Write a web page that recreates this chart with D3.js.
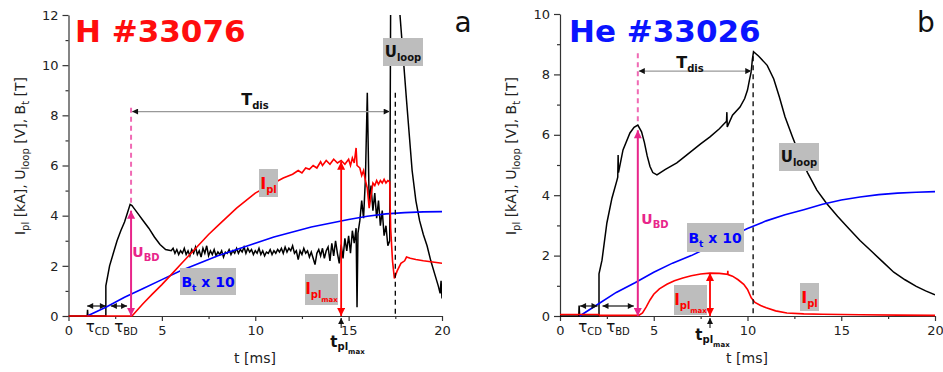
<!DOCTYPE html>
<html>
<head>
<meta charset="utf-8">
<script src="https://cdn.jsdelivr.net/npm/d3@7"></script>
<style>
    body { margin: 0; background: #fff; }
    svg { font-family: "DejaVu Sans", sans-serif; }
</style>
</head>
<body>
<div id="chart"></div>
<script>

var ticksX = [0, 5, 10, 15, 20];
var minorX = [2.5, 7.5, 12.5, 17.5];
var ticksYA = [0, 2, 4, 6, 8, 10, 12];
var minorYA = [1, 3, 5, 7, 9, 11];
var ticksYB = [0, 2, 4, 6, 8, 10];
var minorYB = [1, 3, 5, 7, 9];

// H #33076  [t ms, value]
var uloopA = [[0,0],[1.0,0],[1.02,0.25],[1.04,0],[2.0,0],[2.0,1.2],[2.1,1.6],[2.2,2.0],[2.4,2.5],[2.6,3.0],[2.8,3.4],[3.0,3.75],
    [3.15,4.1],[3.3,4.45],[3.4,4.4],[3.5,4.3],[3.7,4.1],[4.0,3.8],[4.3,3.5],[4.6,3.15],[4.9,2.85],[5.2,2.65],[5.5,2.6],
    [5.6,2.7],[5.7,2.5],[5.8,2.65],[5.9,2.45],[6.0,2.6],[6.1,2.5],[6.2,2.7],[6.3,2.45],[6.4,2.6],[6.5,2.4],[6.6,2.65],
    [6.7,2.5],[6.8,2.75],[6.9,2.45],[7.0,2.6],[7.1,2.35],[7.2,2.7],[7.3,2.5],[7.4,2.8],[7.5,2.4],[7.6,2.6],[7.7,2.45],
    [7.8,2.65],[7.9,2.4],[8.0,2.55],[8.1,2.45],[8.2,2.6],[8.3,2.35],[8.4,2.55],[8.5,2.5],[8.6,2.65],[8.7,2.45],[8.8,2.6],
    [8.9,2.5],[9.0,2.7],[9.1,2.5],[9.2,2.65],[9.3,2.55],[9.4,2.75],[9.5,2.5],[9.6,2.7],[9.7,2.55],[9.8,2.65],[9.9,2.45],
    [10.0,2.6],[10.1,2.5],[10.2,2.7],[10.3,2.45],[10.4,2.6],[10.5,2.4],[10.6,2.55],[10.7,2.5],[10.8,2.65],[10.9,2.45],
    [11.0,2.6],[11.1,2.5],[11.2,2.65],[11.3,2.55],[11.4,2.7],[11.5,2.5],[11.6,2.75],[11.7,2.55],[11.8,2.7],[11.9,2.6],
    [12.0,2.8],[12.1,2.5],[12.2,2.6],[12.3,2.25],[12.4,2.6],[12.5,2.45],[12.6,2.7],[12.7,2.5],[12.8,2.6],[12.9,2.35],
    [13.0,2.55],[13.1,2.3],[13.2,2.05],[13.3,2.5],[13.4,2.65],[13.5,2.4],[13.6,2.7],[13.7,2.3],[13.8,2.6],[13.9,2.75],
    [14.0,2.2],[14.1,2.9],[14.2,2.4],[14.3,3.0],[14.4,2.5],[14.5,2.1],[14.6,2.85],[14.7,2.3],[14.8,3.1],[14.9,2.6],
    [15.0,3.2],[15.1,2.5],[15.2,3.4],[15.3,2.9],[15.4,3.5],[15.45,0.35],[15.5,3.3],[15.6,3.8],[15.7,4.6],[15.8,3.9],
    [15.9,5.5],[16.0,8.9],[16.1,4.5],[16.2,5.2],[16.3,4.2],[16.4,4.9],[16.5,3.9],[16.6,4.6],[16.7,3.6],[16.8,4.2],
    [16.9,3.2],[17.0,3.6],[17.1,2.8],[17.2,3.0],[17.25,12.5],[17.35,14],[17.7,14],[17.75,12],[18.1,8.6],[18.4,5.8],
    [18.6,4.6],[18.8,3.8],[19.0,3.25],[19.2,2.8],[19.4,2.2],[19.6,1.7],[19.8,1.2],[19.9,0.9],[19.95,1.4],[20.0,0.7]];

var iplA = [[0,0],[3.4,0],[3.7,0.25],[4.0,0.5],[4.5,0.88],[5.0,1.25],[5.5,1.65],[6.0,2.05],[6.5,2.45],[7.0,2.85],
    [7.5,3.25],[8.0,3.6],[8.5,3.95],[9.0,4.3],[9.5,4.6],[10.0,4.9],[10.5,5.1],[11.0,5.3],[11.5,5.5],[12.0,5.65],
    [12.3,5.8],[12.5,5.7],[12.7,5.9],[12.9,5.85],[13.1,6.0],[13.3,5.9],[13.5,6.15],[13.6,6.0],[13.8,6.2],[14.0,6.05],
    [14.2,6.25],[14.4,6.1],[14.6,6.2],[14.8,6.05],[15.0,6.25],[15.1,6.0],[15.2,6.3],[15.3,6.1],[15.4,6.7],[15.45,6.0],
    [15.6,5.9],[15.7,5.6],[15.8,5.8],[15.9,5.4],[16.0,5.1],[16.1,4.3],[16.2,4.8],[16.3,5.3],[16.4,5.2],[16.5,5.4],
    [16.6,5.25],[16.7,5.4],[16.8,5.3],[16.9,5.45],[17.0,5.3],[17.1,5.4],[17.2,5.35],[17.25,3.5],[17.35,2.2],[17.45,1.5],
    [17.6,1.8],[17.8,2.1],[18.0,2.2],[18.1,2.35],[18.3,2.3],[18.6,2.25],[19.0,2.2],[19.5,2.15],[20.0,2.1]];

var btA = [[1.0,0],[2,0.35],[3,0.75],[4,1.1],[5,1.45],[6,1.8],[7,2.1],[8,2.4],[9,2.65],[10,2.9],[11,3.15],
    [12,3.35],[13,3.55],[14,3.7],[15,3.85],[16,3.98],[17,4.07],[18,4.12],[19,4.15],[20,4.16]];

// He #33026
var uloopB = [[0,0],[1.0,0],[1.02,0.35],[1.05,0],[2.08,0],[2.08,1.4],[2.24,1.85],[2.5,3.08],[2.77,3.9],[3.04,4.5],
    [3.08,4.6],[3.1,5.33],[3.12,4.75],[3.36,5.5],[3.73,6.06],[3.95,6.25],[4.15,6.32],[4.35,6.1],[4.5,5.75],[4.65,5.3],
    [4.8,4.95],[4.95,4.75],[5.17,4.67],[5.6,4.85],[6.23,5.07],[6.7,5.3],[7.1,5.5],[7.5,5.7],[8.0,5.93],[8.5,6.2],
    [8.88,6.45],[8.9,6.75],[8.92,6.26],[9.2,6.65],[9.6,6.92],[9.85,7.2],[10.0,7.48],[10.1,7.8],[10.2,8.1],[10.26,8.5],
    [10.32,8.75],[10.6,8.6],[11.05,8.3],[11.4,7.85],[11.7,7.25],[12.0,6.6],[12.4,5.93],[12.8,5.3],[13.2,4.75],
    [13.7,4.17],[14.2,3.74],[14.8,3.3],[15.4,2.9],[16.0,2.5],[16.6,2.15],[17.2,1.8],[17.8,1.45],[18.4,1.2],
    [19.0,0.98],[19.5,0.83],[20.0,0.7]];

var iplB = [[0,0.05],[2.08,0.05],[2.1,0.02],[4.2,0.02],[4.4,0.1],[4.6,0.3],[4.8,0.53],[5.0,0.72],[5.3,0.9],[5.7,1.05],
    [6.1,1.17],[6.55,1.26],[7.0,1.33],[7.5,1.39],[8.0,1.42],[8.5,1.41],[8.94,1.38],[8.95,1.5],[8.96,1.37],[9.2,1.32],
    [9.5,1.2],[9.8,1.05],[10.0,0.88],[10.2,0.6],[10.4,0.45],[10.7,0.35],[11.0,0.27],[11.5,0.17],[12.1,0.1],[13,0.07],
    [14,0.06],[16,0.04],[18,0.03],[20,0.02]];

var btB = [[1.05,0],[2,0.38],[3,0.78],[4,1.1],[5,1.45],[6,1.75],[7,2.0],[8,2.3],[9,2.6],[10,2.9],[11,3.15],
    [12,3.35],[13,3.52],[14,3.7],[15,3.84],[16,3.94],[17,4.02],[18,4.07],[19,4.1],[20,4.12]];

// characteristic times / levels
var eventsA = { tCD: 1.0, tStart: 2.0, tBD: 3.35, uBD: 4.2, dashTop: 8.3, tDisY: 8.15, tDisEnd: 17.2,
    tEnd: 17.5, endTop: 8.9, tIpMax: 14.6, ipMax: 6.15 };
var eventsB = { tCD: 1.07, tStart: 2.0, tBD: 4.15, uBD: 6.15, dashTop: 8.7, tDisY: 8.11, tDisEnd: 10.2,
    tEnd: 10.3, endTop: 8.6, tIpMax: 8.0, ipMax: 1.42 };


/*
 * Panel - one discharge
 */
Panel = function(_parentElement, _config){
    this.parentElement = _parentElement;
    this.config = _config;
    this.initVis();
}

Panel.prototype.initVis = function(){
    var vis = this;
    var c = vis.config;

    vis.svg = vis.parentElement.append("g");

    vis.x = d3.scaleLinear().domain([0, 20]).range([c.left, c.right]);
    vis.y = d3.scaleLinear().domain([0, c.yMax]).range([c.bottom, c.top]);

    // axes
    var ax = vis.svg.append("g").attr("class", "axis");
    ax.append("g").attr("transform", "translate(0," + c.bottom + ")")
        .call(d3.axisBottom(vis.x).tickValues(ticksX).tickSize(5).tickSizeOuter(0).tickPadding(5));
    ax.append("g").attr("transform", "translate(0," + c.bottom + ")")
        .call(d3.axisBottom(vis.x).tickValues(minorX).tickSize(3).tickFormat(""))
        .select(".domain").remove();
    ax.append("g").attr("transform", "translate(" + c.left + ",0)")
        .call(d3.axisLeft(vis.y).tickValues(c.ticksY).tickSize(6).tickSizeOuter(0).tickPadding(4));
    ax.append("g").attr("transform", "translate(" + c.left + ",0)")
        .call(d3.axisLeft(vis.y).tickValues(c.minorY).tickSize(3).tickFormat(""))
        .select(".domain").remove();
    ax.selectAll(".domain, line").attr("stroke", "#333").attr("stroke-width", 1.2);
    ax.selectAll("text").attr("font-size", 13).attr("fill", "#222").attr("font-family", "DejaVu Sans");

    vis.svg.append("clipPath").attr("id", c.id + "-clip")
        .append("rect").attr("x", c.left).attr("y", c.top)
        .attr("width", c.right - c.left).attr("height", c.bottom - c.top + 3);

    vis.updateVis();
}

Panel.prototype.updateVis = function(){
    var vis = this;
    var c = vis.config;
    var e = c.events;
    var x = vis.x, y = vis.y;

    var line = d3.line().x(function(d){ return x(d[0]); }).y(function(d){ return y(d[1]); });

    var plot = vis.svg.append("g").attr("clip-path", "url(#" + c.id + "-clip)");
    plot.append("path").datum(c.uloop).attr("d", line)
        .attr("fill", "none").attr("stroke", "#000").attr("stroke-width", 1.5);
    plot.append("path").datum(c.bt).attr("d", line)
        .attr("fill", "none").attr("stroke", "#0000ff").attr("stroke-width", 1.6);
    plot.append("path").datum(c.ipl).attr("d", line)
        .attr("fill", "none").attr("stroke", "#ff0000").attr("stroke-width", 1.6);

    var ann = vis.svg.append("g");

    // breakdown: dashed + double arrow
    ann.append("line").attr("x1", x(e.tBD)).attr("x2", x(e.tBD))
        .attr("y1", y(e.dashTop)).attr("y2", y(e.uBD + 0.2))
        .attr("stroke", "#f06ab4").attr("stroke-width", 2).attr("stroke-dasharray", "5,4");
    ann.append("line").attr("x1", x(e.tBD)).attr("x2", x(e.tBD))
        .attr("y1", y(0)).attr("y2", y(e.uBD))
        .attr("stroke", "#e8258a").attr("stroke-width", 2)
        .attr("marker-start", "url(#ar-pink)").attr("marker-end", "url(#ar-pink)");

    // end of discharge
    ann.append("line").attr("x1", x(e.tEnd)).attr("x2", x(e.tEnd))
        .attr("y1", y(e.endTop)).attr("y2", y(0))
        .attr("stroke", "#000").attr("stroke-width", 1.3).attr("stroke-dasharray", "5,4");

    // T_dis
    ann.append("line").attr("x1", x(e.tBD) + 1).attr("x2", x(e.tDisEnd))
        .attr("y1", y(e.tDisY)).attr("y2", y(e.tDisY))
        .attr("stroke", "#999").attr("stroke-width", 1.2)
        .attr("marker-start", "url(#ar-black)").attr("marker-end", "url(#ar-black)");

    // Ipl max
    ann.append("line").attr("x1", x(e.tIpMax)).attr("x2", x(e.tIpMax))
        .attr("y1", y(0)).attr("y2", y(e.ipMax))
        .attr("stroke", "#ff0000").attr("stroke-width", 1.8)
        .attr("marker-start", "url(#ar-red)").attr("marker-end", "url(#ar-red)");
    ann.append("line").attr("x1", x(e.tIpMax)).attr("x2", x(e.tIpMax))
        .attr("y1", y(0) + 12).attr("y2", y(0) + 2)
        .attr("stroke", "#000").attr("stroke-width", 1)
        .attr("marker-end", "url(#ar-small)");

    // tau arrows
    var ty = y(0) - 10;
    ann.append("line").attr("x1", x(e.tCD)).attr("x2", x(e.tStart))
        .attr("y1", ty).attr("y2", ty).attr("stroke", "#000").attr("stroke-width", 1.1)
        .attr("marker-start", "url(#ar-small)").attr("marker-end", "url(#ar-small)");
    ann.append("line").attr("x1", x(e.tStart) + 5).attr("x2", x(e.tBD) - 4)
        .attr("y1", ty).attr("y2", ty).attr("stroke", "#000").attr("stroke-width", 1.1)
        .attr("marker-start", "url(#ar-small)").attr("marker-end", "url(#ar-small)");

    // boxes
    c.boxes.forEach(function(b){
        ann.append("rect").attr("x", b.x).attr("y", b.y).attr("width", b.w).attr("height", b.h)
            .attr("fill", "#bdbdbd");
    });

    // texts
    c.labels.forEach(function(l){
        richText(ann, l.x, l.y, l.parts, l.color, l.bold, l.rotate);
    });

    vis.svg.append("text").attr("x", c.titleX).attr("y", 42)
        .attr("font-size", 31).attr("font-weight", "bold").attr("fill", c.titleColor)
        .text(c.title);
    vis.svg.append("text").attr("x", c.letterX).attr("y", 32).attr("text-anchor", "middle")
        .attr("font-size", 28).attr("fill", "#111").text(c.letter);
}

// text with subscripts: parts = [text, size, shift down]
function richText(g, x, y, parts, color, bold, rotate){
    var t = g.append("text")
        .attr("text-anchor", "middle").attr("fill", color)
        .attr("font-weight", bold ? "bold" : "normal");
    if (rotate) t.attr("transform", "translate(" + x + "," + y + ") rotate(-90)");
    else t.attr("x", x).attr("y", y);
    var cur = 0;
    parts.forEach(function(p){
        t.append("tspan").attr("font-size", p[1]).attr("dy", p[2] - cur).text(p[0]);
        cur = p[2];
    });
}

var svg = d3.select("#chart").append("svg").attr("width", 943).attr("height", 372);

var defs = svg.append("defs");
function marker(id, color, w, h){
    defs.append("marker").attr("id", id).attr("viewBox", "0 0 10 10")
        .attr("refX", 10).attr("refY", 5).attr("markerUnits", "userSpaceOnUse")
        .attr("markerWidth", w).attr("markerHeight", h).attr("orient", "auto-start-reverse")
        .append("path").attr("d", "M0,0 L10,5 L0,10 z").attr("fill", color);
}
marker("ar-pink", "#e8258a", 10, 8);
marker("ar-red", "#ff0000", 10, 8);
marker("ar-black", "#111", 8, 6);
marker("ar-small", "#111", 7, 6);

var yLabel = [["I", 14, 0], ["pl", 10, 4], [" [kA], U", 14, 0], ["loop", 10, 4], [" [V], B", 14, 0], ["t", 10, 4], [" [T]", 14, 0]];

var panelA = new Panel(svg, {
    id: "pa", left: 68.5, right: 442, top: 15, bottom: 316, yMax: 12,
    ticksY: ticksYA, minorY: minorYA,
    uloop: uloopA, ipl: iplA, bt: btA, events: eventsA,
    title: "H #33076", titleColor: "#ff0d0d", titleX: 75, letter: "a", letterX: 463,
    boxes: [
        { x: 259, y: 169, w: 19, h: 28 },
        { x: 383, y: 38, w: 40, h: 28 },
        { x: 180, y: 268, w: 56, h: 27 },
        { x: 305, y: 274, w: 33, h: 31 }
    ],
    labels: [
        { x: 268.5, y: 189, parts: [["I", 16, 0], ["pl", 10, 4]], color: "#ff0000", bold: true },
        { x: 403, y: 57, parts: [["U", 15, 0], ["loop", 10, 4]], color: "#111", bold: true },
        { x: 208, y: 287, parts: [["B", 14, 0], ["t", 9, 4], [" x 10", 14, 0]], color: "#0000ff", bold: true },
        { x: 321.5, y: 294, parts: [["I", 15, 0], ["pl", 10, 4], ["max", 7, 8]], color: "#ff0000", bold: true },
        { x: 146, y: 257, parts: [["U", 14, 0], ["BD", 10, 4]], color: "#e8258a", bold: true },
        { x: 255, y: 105, parts: [["T", 16, 0], ["dis", 10, 4]], color: "#111", bold: true },
        { x: 97.5, y: 332, parts: [["τ", 15, 0], ["CD", 10, 3]], color: "#111", bold: false },
        { x: 126, y: 332, parts: [["τ", 15, 0], ["BD", 10, 3]], color: "#111", bold: false },
        { x: 347.5, y: 347, parts: [["t", 15, 0], ["pl", 10, 3], ["max", 7, 7]], color: "#111", bold: true },
        { x: 255, y: 363, parts: [["t [ms]", 14, 0]], color: "#222", bold: false },
        { x: 25, y: 156, parts: yLabel, color: "#222", bold: false, rotate: true }
    ]
});

var panelB = new Panel(svg, {
    id: "pb", left: 560, right: 935, top: 14, bottom: 316, yMax: 10,
    ticksY: ticksYB, minorY: minorYB,
    uloop: uloopB, ipl: iplB, bt: btB, events: eventsB,
    title: "He #33026", titleColor: "#0a14ff", titleX: 569, letter: "b", letterX: 926,
    boxes: [
        { x: 687, y: 223, w: 57, h: 29 },
        { x: 779, y: 143, w: 40, h: 28 },
        { x: 800, y: 283, w: 19, h: 28 },
        { x: 674, y: 285, w: 33, h: 30 }
    ],
    labels: [
        { x: 715, y: 243, parts: [["B", 14, 0], ["t", 9, 4], [" x 10", 14, 0]], color: "#0000ff", bold: true },
        { x: 799, y: 162, parts: [["U", 15, 0], ["loop", 10, 4]], color: "#111", bold: true },
        { x: 809.5, y: 303, parts: [["I", 16, 0], ["pl", 10, 4]], color: "#ff0000", bold: true },
        { x: 690.5, y: 305, parts: [["I", 15, 0], ["pl", 10, 4], ["max", 7, 8]], color: "#ff0000", bold: true },
        { x: 655, y: 224, parts: [["U", 14, 0], ["BD", 10, 4]], color: "#e8258a", bold: true },
        { x: 690, y: 68, parts: [["T", 16, 0], ["dis", 10, 4]], color: "#111", bold: true },
        { x: 590, y: 332, parts: [["τ", 15, 0], ["CD", 10, 3]], color: "#111", bold: false },
        { x: 618, y: 332, parts: [["τ", 15, 0], ["BD", 10, 3]], color: "#111", bold: false },
        { x: 712.5, y: 340, parts: [["t", 15, 0], ["pl", 10, 3], ["max", 7, 7]], color: "#111", bold: true },
        { x: 747, y: 363, parts: [["t [ms]", 14, 0]], color: "#222", bold: false },
        { x: 516, y: 156, parts: yLabel, color: "#222", bold: false, rotate: true }
    ]
});

</script>
</body>
</html>
